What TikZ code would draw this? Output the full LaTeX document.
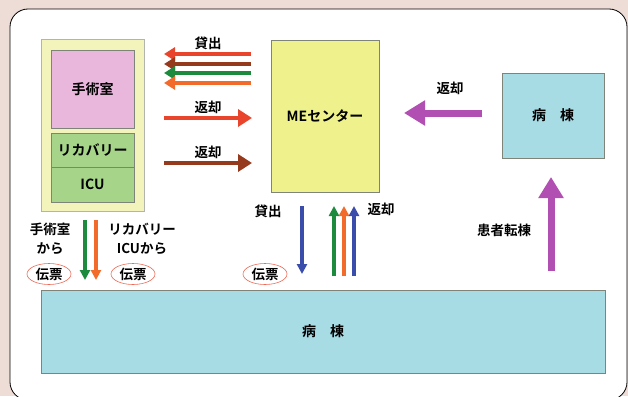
\documentclass[tikz,border=0pt]{standalone}
\usepackage{fontspec}
\setmainfont{Noto Sans CJK JP}[BoldFont={Noto Sans CJK JP Bold}]
\usetikzlibrary{arrows.meta,shapes.geometric}
\definecolor{bgpink}{HTML}{EEDCD6}
\definecolor{outery}{HTML}{F3F4BC}
\definecolor{pinkbox}{HTML}{E9B6DC}
\definecolor{greenbox}{HTML}{A6D58A}
\definecolor{mey}{HTML}{EEF18C}
\definecolor{bluebox}{HTML}{A7DCE5}
\definecolor{cred}{HTML}{E8452C}
\definecolor{cbrown}{HTML}{963A1E}
\definecolor{cgreen}{HTML}{1C8B3E}
\definecolor{corange}{HTML}{F26B2A}
\definecolor{cblue}{HTML}{3A4DAA}
\definecolor{cmag}{HTML}{B24FB2}
\definecolor{edgec}{HTML}{7F8478}
\tikzset{
  box/.style={draw=edgec, line width=0.8pt},
  lbl/.style={font=\bfseries\fontsize{13.5}{19}\selectfont, inner sep=0pt},
  boxlbl/.style={font=\bfseries\fontsize{14}{15}\selectfont, inner sep=0pt},
  thinarr/.style={line width=3.6pt, -{Triangle[length=11pt,width=13pt]}},
  midarr/.style={line width=4.5pt, -{Triangle[length=14pt,width=17pt]}},
  bigarr/.style={line width=7pt, -{Triangle[length=21pt,width=24pt]}},
  narrow/.style={line width=3.5pt, -{Triangle[length=10pt,width=10pt]}},
  slip/.style={ellipse, draw=cred!80, line width=0.6pt, minimum width=44pt, minimum height=21pt, inner sep=0pt, font=\bfseries\fontsize{13.5}{14}\selectfont},
}
\begin{document}
\begin{tikzpicture}[x=1pt,y=-1pt]
\useasboundingbox (0,0) rectangle (628,396);
\fill[bgpink] (0,0) rectangle (628,396);
\draw[fill=white, line width=0.8pt, rounded corners=18pt] (10,9) rectangle (627,400);
% left block
\node[box, draw=edgec!60, fill=outery, minimum width=103pt, minimum height=172pt, inner sep=0pt] (outer) at (92.5,125.5) {};
\node[box, fill=pinkbox, minimum width=83pt, minimum height=78pt, inner sep=0pt, boxlbl] (ope) at (92.5,89) {手術室};
\node[box, fill=greenbox, minimum width=83pt, minimum height=34pt, inner sep=0pt, boxlbl] (rec) at (92.5,150) {リカバリー};
\node[box, fill=greenbox, minimum width=83pt, minimum height=35pt, inner sep=0pt, boxlbl] (icu) at (92.5,184.5) {ICU};
% ME center
\node[box, fill=mey, minimum width=108pt, minimum height=152pt, inner sep=0pt, boxlbl] (me) at (325,116) {MEセンター};
% ward right
\node[box, fill=bluebox, minimum width=102pt, minimum height=85pt, inner sep=0pt, boxlbl] (wardr) at (553,115.5) {病\hspace{1em}棟};
% ward bottom
\node[box, fill=bluebox, minimum width=564pt, minimum height=83pt, inner sep=0pt, boxlbl] (wardb) at (323,331.5) {病\hspace{1em}棟};

% lending arrows (top)
\coordinate (l1s) at (251,54); \coordinate (l1e) at (164,54);
\coordinate (l2s) at (251,64); \coordinate (l2e) at (164,64);
\coordinate (l3s) at (251,73); \coordinate (l3e) at (164,73);
\coordinate (l4s) at (251,83); \coordinate (l4e) at (164,83);
\draw[thinarr, cred] (l1s) -- (l1e);
\draw[thinarr, cbrown] (l2s) -- (l2e);
\draw[thinarr, cgreen] (l3s) -- (l3e);
\draw[thinarr, corange] (l4s) -- (l4e);
\node[lbl] (lendt) at (208,43) {貸出};
% return arrows
\coordinate (r1s) at (164,118); \coordinate (r1e) at (252,118);
\coordinate (r2s) at (164,163); \coordinate (r2e) at (252,163);
\draw[midarr, cred] (r1s) -- (r1e);
\draw[midarr, cbrown] (r2s) -- (r2e);
\node[lbl] (ret1) at (208,107) {返却};
\node[lbl] (ret2) at (208,152) {返却};
% magenta return
\coordinate (mrs) at (482,113); \coordinate (mre) at (404,113);
\draw[bigarr, cmag] (mrs) -- (mre);
\node[lbl] (ret3) at (450,88) {返却};
% patient transfer
\coordinate (pts) at (551,271); \coordinate (pte) at (551,177);
\draw[bigarr, cmag] (pts) -- (pte);
\node[lbl] (ptl) at (504,230) {患者転棟};
% middle arrows
\coordinate (bds) at (302,206); \coordinate (bde) at (302,274);
\draw[narrow, cblue] (bds) -- (bde);
\node[lbl] (lend2) at (268,211) {貸出};
\coordinate (u1s) at (334,276); \coordinate (u1e) at (334,206);
\coordinate (u2s) at (344,276); \coordinate (u2e) at (344,206);
\coordinate (u3s) at (354,276); \coordinate (u3e) at (354,206);
\draw[narrow, cgreen] (u1s) -- (u1e);
\draw[narrow, corange] (u2s) -- (u2e);
\draw[narrow, cblue] (u3s) -- (u3e);
\node[lbl] (ret4) at (381,209) {返却};
% left down arrows
\coordinate (d1s) at (85,220); \coordinate (d1e) at (85,280);
\coordinate (d2s) at (96,220); \coordinate (d2e) at (96,280);
\draw[narrow, cgreen] (d1s) -- (d1e);
\draw[narrow, corange] (d2s) -- (d2e);
\node[lbl, align=center] (fromope) at (50,239) {手術室\\から};
\node[lbl, align=center] (fromrec) at (142,239) {リカバリー\\ICUから};
% slips
\node[slip] (s1) at (49,274) {伝票};
\node[slip] (s2) at (133,274) {伝票};
\node[slip] (s3) at (265,274) {伝票};
\end{tikzpicture}
\end{document}
